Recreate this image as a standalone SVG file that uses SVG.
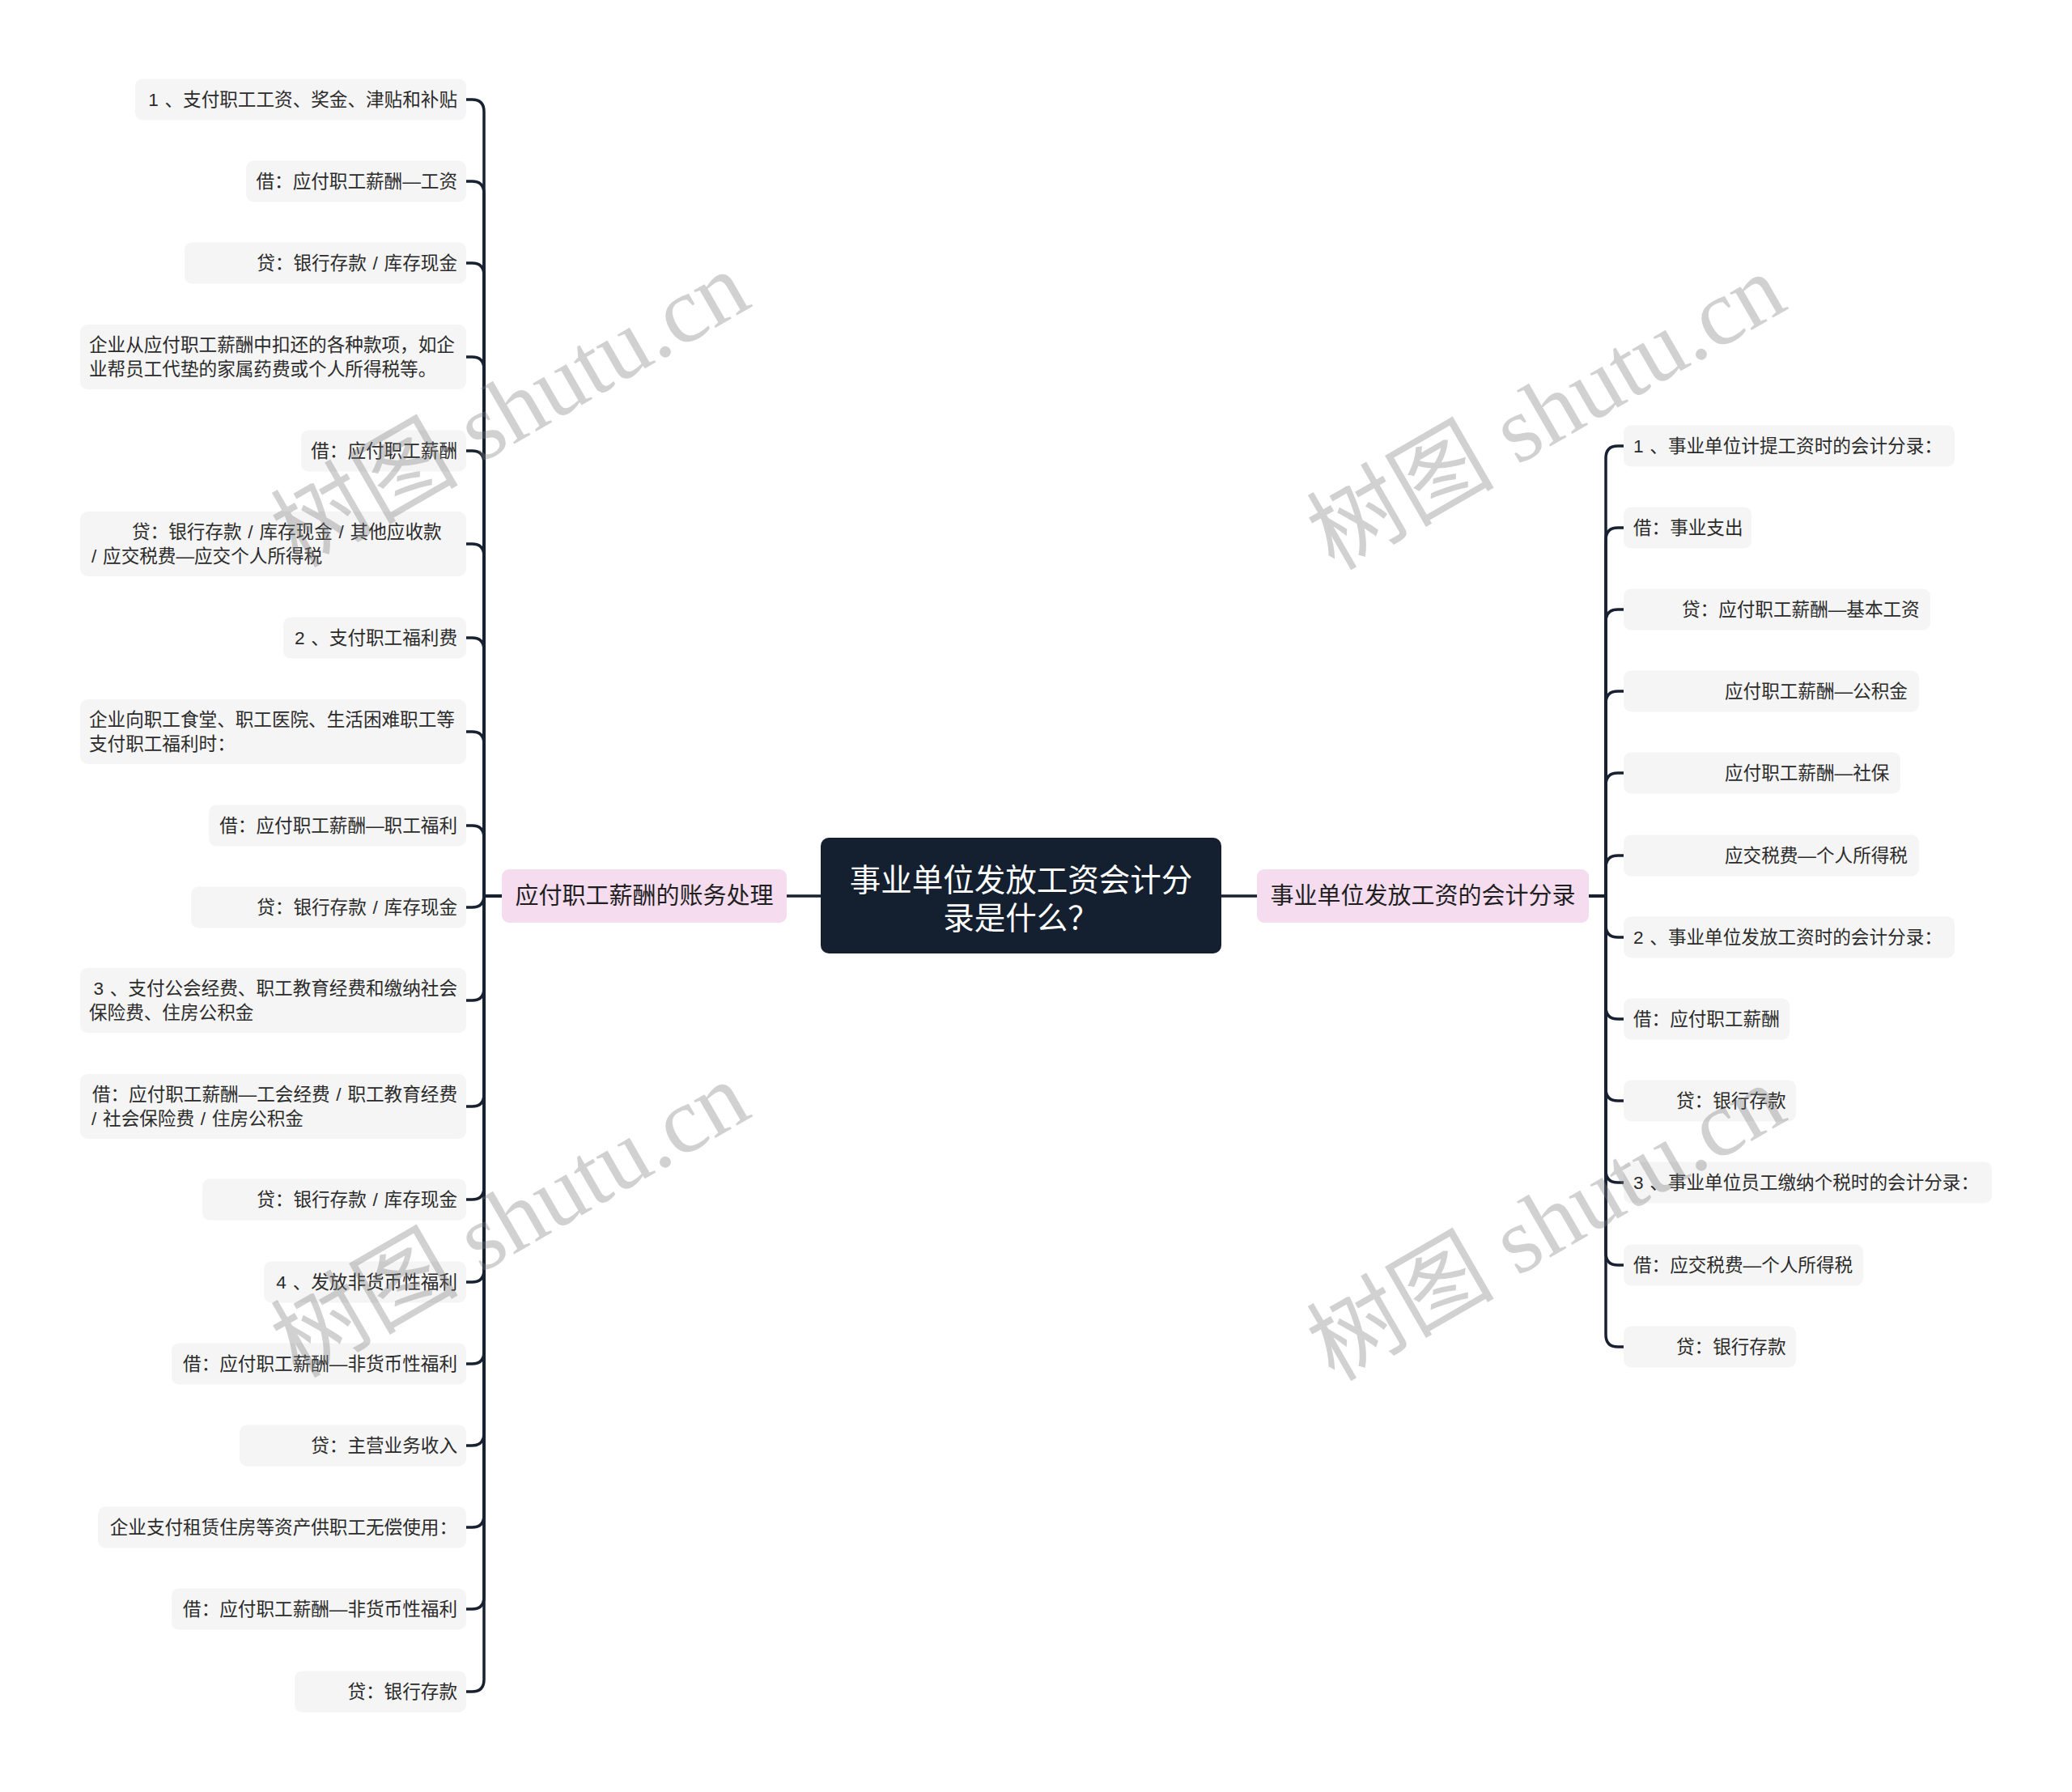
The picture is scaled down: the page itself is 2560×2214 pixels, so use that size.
<svg xmlns="http://www.w3.org/2000/svg" width="2560" height="2214" viewBox="0 0 2560 2214">
<style>
.leaf rect{fill:#f5f5f5;}
.leaf text{font-family:"Liberation Sans","Noto Sans CJK SC",sans-serif;font-size:22.6px;fill:#2b2b2b;word-spacing:1.5px;}
.r{text-anchor:end;}
.branch rect{fill:#f5dcef;}
.branch text{font-family:"Liberation Sans","Noto Sans CJK SC",sans-serif;font-size:29px;fill:#1f1f1f;text-anchor:middle;}
.root rect{fill:#141f2f;}
.root text{font-family:"Liberation Sans","Noto Sans CJK SC",sans-serif;font-size:38.5px;fill:#ffffff;text-anchor:middle;}
#connectors path{fill:none;stroke:#172131;stroke-width:3.5;stroke-linecap:round;stroke-linejoin:round;}
.wm{font-family:"Liberation Serif","Noto Sans CJK SC",serif;font-size:116px;fill:#7a7a7a;fill-opacity:0.35;text-anchor:middle;}
</style>
<rect x="0" y="0" width="2560" height="2214" fill="#ffffff"/>
<g id="connectors">
<path d="M1014 1107 H972"/>
<path d="M1509 1107 H1553"/>
<path d="M620 1107 H598 V138 Q598 123 583 123 H576"/>
<path d="M620 1107 H598 V239 Q598 224 583 224 H576"/>
<path d="M620 1107 H598 V340 Q598 325 583 325 H576"/>
<path d="M620 1107 H598 V456 Q598 441 583 441 H576"/>
<path d="M620 1107 H598 V572 Q598 557 583 557 H576"/>
<path d="M620 1107 H598 V687 Q598 672 583 672 H576"/>
<path d="M620 1107 H598 V803 Q598 788 583 788 H576"/>
<path d="M620 1107 H598 V919 Q598 904 583 904 H576"/>
<path d="M620 1107 H598 V1035 Q598 1020 583 1020 H576"/>
<path d="M620 1107 H598 V1106 Q598 1121 583 1121 H576"/>
<path d="M620 1107 H598 V1221 Q598 1236 583 1236 H576"/>
<path d="M620 1107 H598 V1352 Q598 1367 583 1367 H576"/>
<path d="M620 1107 H598 V1467 Q598 1482 583 1482 H576"/>
<path d="M620 1107 H598 V1569 Q598 1584 583 1584 H576"/>
<path d="M620 1107 H598 V1670 Q598 1685 583 1685 H576"/>
<path d="M620 1107 H598 V1771 Q598 1786 583 1786 H576"/>
<path d="M620 1107 H598 V1872 Q598 1887 583 1887 H576"/>
<path d="M620 1107 H598 V1973 Q598 1988 583 1988 H576"/>
<path d="M620 1107 H598 V2075 Q598 2090 583 2090 H576"/>
<path d="M1963 1107 H1984 V566 Q1984 551 1999 551 H2006"/>
<path d="M1963 1107 H1984 V667 Q1984 652 1999 652 H2006"/>
<path d="M1963 1107 H1984 V768 Q1984 753 1999 753 H2006"/>
<path d="M1963 1107 H1984 V869 Q1984 854 1999 854 H2006"/>
<path d="M1963 1107 H1984 V970 Q1984 955 1999 955 H2006"/>
<path d="M1963 1107 H1984 V1072 Q1984 1057 1999 1057 H2006"/>
<path d="M1963 1107 H1984 V1143 Q1984 1158 1999 1158 H2006"/>
<path d="M1963 1107 H1984 V1244 Q1984 1259 1999 1259 H2006"/>
<path d="M1963 1107 H1984 V1345 Q1984 1360 1999 1360 H2006"/>
<path d="M1963 1107 H1984 V1446 Q1984 1461 1999 1461 H2006"/>
<path d="M1963 1107 H1984 V1548 Q1984 1563 1999 1563 H2006"/>
<path d="M1963 1107 H1984 V1649 Q1984 1664 1999 1664 H2006"/>
</g>
<g id="root" class="root">
<rect x="1014" y="1035" width="495" height="143" rx="10"/>
<text x="1261.5" y="1101">事业单位发放工资会计分</text>
<text x="1261.5" y="1148">录是什么？</text>
</g>
<g id="branch-left" class="branch">
<rect x="620" y="1074" width="352" height="66" rx="9"/>
<text x="796" y="1117">应付职工薪酬的账务处理</text>
</g>
<g id="branch-right" class="branch">
<rect x="1553" y="1074" width="410" height="66" rx="9"/>
<text x="1758" y="1117">事业单位发放工资的会计分录</text>
</g>
<g id="L1" class="leaf"><rect x="167" y="97.5" width="409" height="51" rx="9"/><text class="r" x="565" y="131">1 、支付职工工资、奖金、津贴和补贴</text></g>
<g id="L2" class="leaf"><rect x="304" y="198.5" width="272" height="51" rx="9"/><text class="r" x="565" y="232">借：应付职工薪酬—工资</text></g>
<g id="L3" class="leaf"><rect x="228" y="299.5" width="348" height="51" rx="9"/><text class="r" x="565" y="333">贷：银行存款 / 库存现金</text></g>
<g id="L4" class="leaf"><rect x="99" y="401" width="477" height="80" rx="9"/><text x="110" y="434">企业从应付职工薪酬中扣还的各种款项，如企</text><text x="110" y="464">业帮员工代垫的家属药费或个人所得税等。</text></g>
<g id="L5" class="leaf"><rect x="372" y="531.5" width="204" height="51" rx="9"/><text class="r" x="565" y="565">借：应付职工薪酬</text></g>
<g id="L6" class="leaf"><rect x="99" y="632" width="477" height="80" rx="9"/><text x="163" y="665">贷：银行存款 / 库存现金 / 其他应收款</text><text x="113" y="695">/ 应交税费—应交个人所得税</text></g>
<g id="L7" class="leaf"><rect x="350" y="762.5" width="226" height="51" rx="9"/><text class="r" x="565" y="796">2 、支付职工福利费</text></g>
<g id="L8" class="leaf"><rect x="99" y="864" width="477" height="80" rx="9"/><text x="110" y="897">企业向职工食堂、职工医院、生活困难职工等</text><text x="110" y="927">支付职工福利时：</text></g>
<g id="L9" class="leaf"><rect x="258" y="994.5" width="318" height="51" rx="9"/><text class="r" x="565" y="1028">借：应付职工薪酬—职工福利</text></g>
<g id="L10" class="leaf"><rect x="236" y="1095.5" width="340" height="51" rx="9"/><text class="r" x="565" y="1129">贷：银行存款 / 库存现金</text></g>
<g id="L11" class="leaf"><rect x="99" y="1196" width="477" height="80" rx="9"/><text class="r" x="565" y="1229">3 、支付公会经费、职工教育经费和缴纳社会</text><text x="110" y="1259">保险费、住房公积金</text></g>
<g id="L12" class="leaf"><rect x="99" y="1327" width="477" height="80" rx="9"/><text class="r" x="565" y="1360">借：应付职工薪酬—工会经费 / 职工教育经费</text><text x="113" y="1390">/ 社会保险费 / 住房公积金</text></g>
<g id="L13" class="leaf"><rect x="250" y="1456.5" width="326" height="51" rx="9"/><text class="r" x="565" y="1490">贷：银行存款 / 库存现金</text></g>
<g id="L14" class="leaf"><rect x="326" y="1558.5" width="250" height="51" rx="9"/><text class="r" x="565" y="1592">4 、发放非货币性福利</text></g>
<g id="L15" class="leaf"><rect x="212" y="1659.5" width="364" height="51" rx="9"/><text class="r" x="565" y="1693">借：应付职工薪酬—非货币性福利</text></g>
<g id="L16" class="leaf"><rect x="296" y="1760.5" width="280" height="51" rx="9"/><text class="r" x="565" y="1794">贷：主营业务收入</text></g>
<g id="L17" class="leaf"><rect x="121" y="1861.5" width="455" height="51" rx="9"/><text class="r" x="565" y="1895">企业支付租赁住房等资产供职工无偿使用：</text></g>
<g id="L18" class="leaf"><rect x="212" y="1962.5" width="364" height="51" rx="9"/><text class="r" x="565" y="1996">借：应付职工薪酬—非货币性福利</text></g>
<g id="L19" class="leaf"><rect x="364" y="2064.5" width="212" height="51" rx="9"/><text class="r" x="565" y="2098">贷：银行存款</text></g>
<g id="R1" class="leaf"><rect x="2006" y="525.5" width="409" height="51" rx="9"/><text x="2018" y="559">1 、事业单位计提工资时的会计分录：</text></g>
<g id="R2" class="leaf"><rect x="2006" y="626.5" width="158" height="51" rx="9"/><text x="2018" y="660">借：事业支出</text></g>
<g id="R3" class="leaf"><rect x="2006" y="727.5" width="379" height="51" rx="9"/><text x="2078" y="761">贷：应付职工薪酬—基本工资</text></g>
<g id="R4" class="leaf"><rect x="2006" y="828.5" width="365" height="51" rx="9"/><text x="2131" y="862">应付职工薪酬—公积金</text></g>
<g id="R5" class="leaf"><rect x="2006" y="929.5" width="342" height="51" rx="9"/><text x="2131" y="963">应付职工薪酬—社保</text></g>
<g id="R6" class="leaf"><rect x="2006" y="1031.5" width="365" height="51" rx="9"/><text x="2131" y="1065">应交税费—个人所得税</text></g>
<g id="R7" class="leaf"><rect x="2006" y="1132.5" width="409" height="51" rx="9"/><text x="2018" y="1166">2 、事业单位发放工资时的会计分录：</text></g>
<g id="R8" class="leaf"><rect x="2006" y="1233.5" width="205" height="51" rx="9"/><text x="2018" y="1267">借：应付职工薪酬</text></g>
<g id="R9" class="leaf"><rect x="2006" y="1334.5" width="213" height="51" rx="9"/><text x="2071" y="1368">贷：银行存款</text></g>
<g id="R10" class="leaf"><rect x="2006" y="1435.5" width="455" height="51" rx="9"/><text x="2018" y="1469">3 、事业单位员工缴纳个税时的会计分录：</text></g>
<g id="R11" class="leaf"><rect x="2006" y="1537.5" width="296" height="51" rx="9"/><text x="2018" y="1571">借：应交税费—个人所得税</text></g>
<g id="R12" class="leaf"><rect x="2006" y="1638.5" width="213" height="51" rx="9"/><text x="2071" y="1672">贷：银行存款</text></g>
<g id="watermarks">
<text class="wm" transform="translate(650 540) rotate(-30)">树图 shutu.cn</text>
<text class="wm" transform="translate(1930 543) rotate(-30)">树图 shutu.cn</text>
<text class="wm" transform="translate(650 1541) rotate(-30)">树图 shutu.cn</text>
<text class="wm" transform="translate(1930 1545) rotate(-30)">树图 shutu.cn</text>
</g>
</svg>
